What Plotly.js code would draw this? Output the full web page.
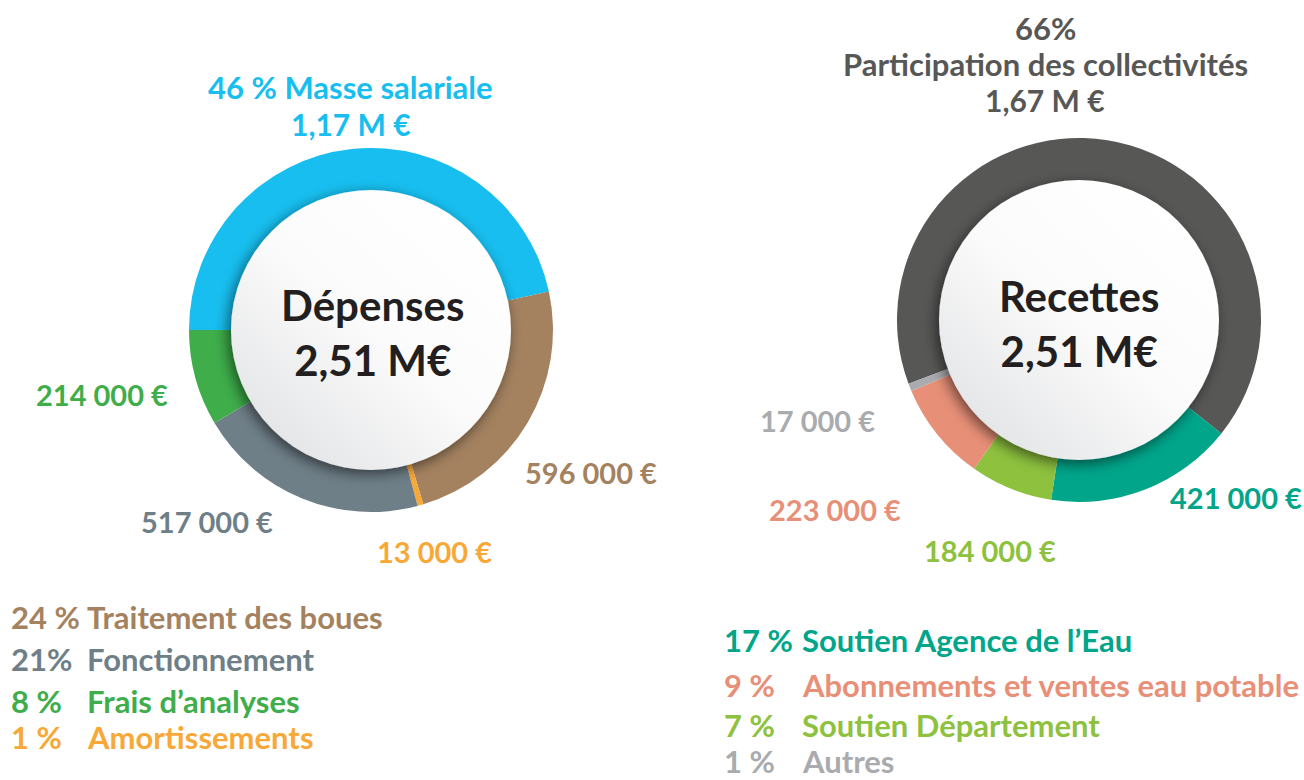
<!DOCTYPE html>
<html>
<head>
<meta charset="utf-8">
<script src="https://cdn.plot.ly/plotly-3.0.1.min.js"></script>
<style>
html,body{margin:0;padding:0;background:#fff;}
#chart{width:1304px;height:780px;}
</style>
</head>
<body>
<div id="chart"></div>
<script>
// ---------- Data ----------
const depLabels = ["Masse salariale", "Traitement des boues", "Amortissements", "Fonctionnement", "Frais d’analyses"];
const depValues = [1170000, 596000, 13000, 517000, 214000];
const depPct = ["46 %", "24 %", "1 %", "21%", "8 %"];
const depAmountText = ["1,17 M €", "596 000 €", "13 000 €", "517 000 €", "214 000 €"];
const depColors = ["#17BEEF", "#A48260", "#F7A837", "#6F7F88", "#3EAD4A"];

const recLabels = ["Participation des collectivités", "Soutien Agence de l’Eau", "Soutien Département", "Abonnements et ventes eau potable", "Autres"];
const recValues = [1670000, 421000, 184000, 223000, 17000];
const recPct = ["66%", "17 %", "7 %", "9 %", "1 %"];
const recAmountText = ["1,67 M €", "421 000 €", "184 000 €", "223 000 €", "17 000 €"];
const recColors = ["#575756", "#00A58A", "#8DC13E", "#E78F77", "#A9ABAE"];

const centerTitles = ["Dépenses<br>2,51 M€", "Recettes<br>2,51 M€"];

// ---------- Layout helpers ----------
const W = 1304, H = 780;
const FONT = "Lato, 'Open Sans', sans-serif";
const px = x => x / W;
const py = y => 1 - y / H;

const L = {cx: 371, cy: 330, r: 182};
const R = {cx: 1079, cy: 320, r: 182};

function domainOf(c) {
  return {x: [px(c.cx - c.r), px(c.cx + c.r)], y: [py(c.cy + c.r), py(c.cy - c.r)]};
}

const traces = [
  {
    type: "pie", values: depValues, labels: depLabels, sort: false,
    direction: "clockwise", rotation: 270, hole: 0.7,
    marker: {colors: depColors, line: {width: 0}},
    textinfo: "none", hoverinfo: "label+value", showlegend: false,
    domain: domainOf(L)
  },
  {
    type: "pie", values: recValues, labels: recLabels, sort: false,
    direction: "clockwise", rotation: 249.5, hole: 0.7,
    marker: {colors: recColors, line: {width: 0}},
    textinfo: "none", hoverinfo: "label+value", showlegend: false,
    domain: domainOf(R)
  }
];

// Inner disc with soft shadow and gradient (decorative)
const discSvg = `<svg xmlns="http://www.w3.org/2000/svg" width="400" height="400" viewBox="0 0 400 400">
<defs>
<linearGradient id="g" x1="0.85" y1="0.1" x2="0.15" y2="0.9">
<stop offset="0" stop-color="#ffffff"/><stop offset="0.5" stop-color="#fbfbfb"/><stop offset="1" stop-color="#e4e5e7"/>
</linearGradient>
<filter id="s" x="-30%" y="-30%" width="160%" height="160%">
<feGaussianBlur in="SourceAlpha" stdDeviation="7"/>
<feOffset dx="-3" dy="4" result="b"/>
<feComponentTransfer><feFuncA type="linear" slope="0.55"/></feComponentTransfer>
<feMerge><feMergeNode/><feMergeNode in="SourceGraphic"/></feMerge>
</filter>
</defs>
<circle cx="200" cy="200" r="140" fill="url(#g)" filter="url(#s)"/>
</svg>`;
const discUri = "data:image/svg+xml;charset=utf-8," + encodeURIComponent(discSvg);

function discImage(c) {
  return {source: discUri, xref: "paper", yref: "paper",
    x: px(c.cx - 200), y: py(c.cy - 200), sizex: 400 / W, sizey: 400 / H,
    xanchor: "left", yanchor: "top", sizing: "stretch", layer: "above"};
}

function ann(text, x, y, color, size, xanchor) {
  return {text: text, x: px(x), y: py(y), xref: "paper", yref: "paper",
    showarrow: false, xanchor: xanchor || "center", yanchor: "middle",
    font: {family: FONT, size: size, color: color, weight: 700}};
}

const S = 31;   // text labels
const N = 29;   // amounts
const annotations = [
  // centres
  ann(centerTitles[0], L.cx + 1, L.cy + 2, "#231F20", 42),
  ann(centerTitles[1], R.cx, R.cy + 3, "#231F20", 42),
  // Dépenses labels
  ann(depPct[0] + " " + depLabels[0], 350, 87, depColors[0], S),
  ann(depAmountText[0], 351, 124, depColors[0], 30),
  ann(depAmountText[1], 591, 473, depColors[1], N),
  ann(depAmountText[2], 434, 551, depColors[2], N),
  ann(depAmountText[3], 207, 521, depColors[3], N),
  ann(depAmountText[4], 102, 394, depColors[4], N),
  // Recettes labels
  ann(recPct[0], 1045, 28, recColors[0], S),
  ann(recLabels[0], 1045, 64, recColors[0], S),
  ann(recAmountText[0], 1045, 100, recColors[0], 30),
  ann(recAmountText[1], 1236, 498, recColors[1], N),
  ann(recAmountText[2], 990, 550, recColors[2], N),
  ann(recAmountText[3], 835, 509, recColors[3], N),
  ann(recAmountText[4], 817, 420, recColors[4], N)
];

// Left list (order as in picture)
const depList = [1, 3, 4, 2];
const depListY = [617, 659, 701, 737];
depList.forEach((k, i) => {
  annotations.push(ann(depPct[k], 9, depListY[i], depColors[k], S, "left"));
  annotations.push(ann(depLabels[k], 85, depListY[i], depColors[k], S, "left"));
});
const recList = [1, 3, 2, 4];
const recListY = [640, 685, 725, 761];
recList.forEach((k, i) => {
  annotations.push(ann(recPct[k], 722, recListY[i], recColors[k], S, "left"));
  annotations.push(ann(recLabels[k], 800, recListY[i], recColors[k], S, "left"));
});

const layout = {
  width: W, height: H,
  margin: {l: 0, r: 0, t: 0, b: 0},
  paper_bgcolor: "#ffffff", plot_bgcolor: "#ffffff",
  showlegend: false,
  images: [discImage(L), discImage(R)],
  annotations: annotations
};

Plotly.newPlot("chart", traces, layout, {displayModeBar: false, staticPlot: true});
</script>
</body>
</html>
